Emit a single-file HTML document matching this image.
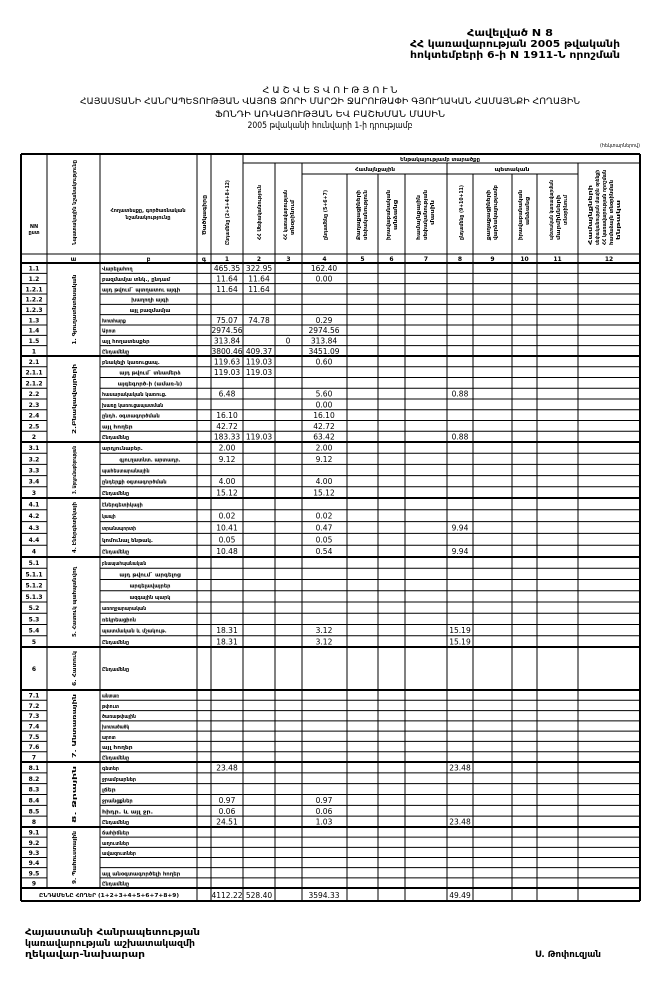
<!DOCTYPE html>
<html><head><meta charset="utf-8">
<style>
html,body{margin:0;padding:0;background:#fff;}
svg{display:block;}
text{font-family:"DejaVu Sans","Liberation Sans",sans-serif;fill:#000;}
.v{font-weight:normal;}
</style></head>
<body>
<svg id="s" width="657" height="999" viewBox="0 0 657 999" xmlns="http://www.w3.org/2000/svg">
<rect width="657" height="999" fill="#fff"/>
<g font-weight="bold" font-size="10">
<text x="467" y="36" textLength="86" lengthAdjust="spacingAndGlyphs">Հավելված N 8</text>
<text x="410" y="47" textLength="210" lengthAdjust="spacingAndGlyphs">ՀՀ կառավարության 2005 թվականի</text>
<text x="410" y="58" textLength="210" lengthAdjust="spacingAndGlyphs">հոկտեմբերի 6-ի N 1911-Ն որոշման</text>
</g>
<g font-size="9" text-anchor="middle">
<text x="330" y="93" textLength="135" lengthAdjust="spacingAndGlyphs">Հ Ա Շ Վ Ե Տ Վ Ո Ւ Թ Յ Ո Ւ Ն</text>
<text x="330" y="104" textLength="500" lengthAdjust="spacingAndGlyphs">ՀԱՅԱՍՏԱՆԻ ՀԱՆՐԱՊԵՏՈՒԹՅԱՆ ՎԱՅՈՑ ՁՈՐԻ ՄԱՐԶԻ ՋԱՐՈՒԹԱՓԻ ԳՅՈՒՂԱԿԱՆ ՀԱՄԱՅՆՔԻ ՀՈՂԱՅԻՆ</text>
<text x="330" y="117" textLength="230" lengthAdjust="spacingAndGlyphs">ՖՈՆԴԻ ԱՌԿԱՅՈՒԹՅԱՆ ԵՎ ԲԱՇԽՄԱՆ ՄԱՍԻՆ</text>
<text x="330" y="128" textLength="165" lengthAdjust="spacingAndGlyphs">2005 թվականի հունվարի 1-ի դրությամբ</text>
</g>
<text x="600" y="147" font-size="5" textLength="40" lengthAdjust="spacingAndGlyphs">(հեկտարներով)</text>
<g id="tbl" font-weight="bold"></g>
<g font-size="9" font-weight="bold">
<text x="25" y="935" textLength="175" lengthAdjust="spacingAndGlyphs">Հայաստանի Հանրապետության</text>
<text x="25" y="946" textLength="170" lengthAdjust="spacingAndGlyphs">կառավարության աշխատակազմի</text>
<text x="25" y="957" textLength="120" lengthAdjust="spacingAndGlyphs">ղեկավար-նախարար</text>
<text x="535" y="957" textLength="66" lengthAdjust="spacingAndGlyphs">Ս. Թոփուզյան</text>
</g>
</svg>
<script>
var NS="http://www.w3.org/2000/svg",G=document.getElementById("tbl");
function L(x1,y1,x2,y2,w){var e=document.createElementNS(NS,"line");e.setAttribute("x1",x1);e.setAttribute("y1",y1);e.setAttribute("x2",x2);e.setAttribute("y2",y2);e.setAttribute("stroke","#000");e.setAttribute("stroke-width",w||1);G.appendChild(e);}
function T(x,y,s,sz,anc,rot,len,cls){var e=document.createElementNS(NS,"text");e.setAttribute("x",x);e.setAttribute("y",y);e.setAttribute("font-size",sz);if(anc)e.setAttribute("text-anchor",anc);if(rot)e.setAttribute("transform","rotate(-90 "+x+" "+y+")");if(len){e.setAttribute("textLength",len);e.setAttribute("lengthAdjust","spacingAndGlyphs");}if(cls)e.setAttribute("class",cls);e.textContent=s;G.appendChild(e);}
var C=[21,47,100,197,211,243,275,302,347,378,405,447,473,512,537,578,640];
var TOP=154,HB=254,NB=263,END=901;
L(21,TOP,640,TOP,2);L(243,163,640,163);L(302,174,578,174);L(21,HB,640,HB);L(21,NB,640,NB,2);
[21,47,100,197,211,243,640].forEach(function(x){L(x,TOP,x,888,(x==21||x==640)?2:1);});
[275,302,447,578].forEach(function(x){L(x,163,x,END);});
[347,378,405,473,512,537].forEach(function(x){L(x,174,x,END);});
[197,211,243].forEach(function(x){L(x,888,x,END);});
L(21,888,21,END,2);L(640,888,640,END,2);L(21,END,640,END,2);
T(34,228,"NN",5,"middle");T(34,234,"ըստ",5,"middle");
T(76,245,"Նպատակային նշանակությունը",5,null,1,85);
T(148,212,"Հողատեսքը, գործառնական",5,"middle",0,75);T(148,219,"նշանակությունը",5,"middle",0,45);
T(206,235,"Ծածկագիրը",5,null,1,40);
T(229,245,"Ընդամենը (2+3+4+8+12)",5,null,1,65);
T(261,240,"ՀՀ Սեփականություն",5,null,1,55);
T(287,240,"ՀՀ կառավարության",5,null,1,50);T(294,235,"տնօրինում",5,null,1,35);
T(440,161,"Ենթակայությամբ տարածքը",5,"middle",0,80);
T(375,171,"Համայնքային",5,"middle",0,40);T(512,171,"պետական",5,"middle",0,35);
T(327,240,"ընդամենը (5+6+7)",5,null,1,50);
T(360,240,"Քաղաքացիների",5,null,1,50);T(367,240,"սեփականություն",5,null,1,50);
T(390,240,"իրավաբանական",5,null,1,50);T(397,230,"անձանց",5,null,1,30);
T(420,240,"համայնքային",5,null,1,45);T(427,240,"սեփականության",5,null,1,50);T(434,225,"մասին",5,null,1,25);
T(463,240,"ընդամենը (9+10+11)",5,null,1,55);
T(490,240,"քաղաքացիների",5,null,1,50);T(497,240,"վարձակալությամբ",5,null,1,55);
T(522,240,"իրավաբանական",5,null,1,50);T(529,225,"անձանց",5,null,1,28);
T(553,240,"պետական կառավարման",5,null,1,60);T(560,240,"մարմինների",5,null,1,45);T(567,225,"տնօրինում",5,null,1,30);
T(592,245,"Համայնքների",5,null,1,60);T(599,245,"սեփականության մասին օրենքի",5,null,1,75);T(606,245,"ՀՀ կառավարության որոշման",5,null,1,75);T(613,245,"համաձայն տնօրինման",5,null,1,65);T(620,240,"ենթակա",5,null,1,40);
var nums=["","ա","բ","գ","1","2","3","4","5","6","7","8","9","10","11","12"];
for(var i=0;i<16;i++)T((C[i]+C[i+1])/2,261,nums[i],6,"middle");
var groups=[
[263,356,"1. Գյուղատնտեսական",[
["1.1","Վարելահող",0,"465.35","322.95","","162.40",""],
["1.2","բազմամյա տնկ., ընդամ",0,"11.64","11.64","","0.00",""],
["1.2.1","այդ թվում` պտղատու այգի",0,"11.64","11.64","","",""],
["1.2.2","խաղողի այգի",1,"","","","",""],
["1.2.3","այլ բազմամյա",1,"","","","",""],
["1.3","Խոտհարք",0,"75.07","74.78","","0.29",""],
["1.4","Արոտ",0,"2974.56","","","2974.56",""],
["1.5","այլ հողատեսքեր",0,"313.84","","0","313.84",""],
["1","Ընդամենը",0,"3800.46","409.37","","3451.09",""]]],
[356,442,"2.Բնակավայրերի",[
["2.1","բնակելի կառուցապ.",0,"119.63","119.03","","0.60",""],
["2.1.1","այդ թվում` տնամերձ",1,"119.03","119.03","","",""],
["2.1.2","այգեգործ-ի (ամառ-ն)",1,"","","","",""],
["2.2","հասարակական կառուց.",0,"6.48","","","5.60","0.88"],
["2.3","խառը կառուցապատման",0,"","","","0.00",""],
["2.4","ընդհ. օգտագործման",0,"16.10","","","16.10",""],
["2.5","այլ հողեր",0,"42.72","","","42.72",""],
["2","Ընդամենը",0,"183.33","119.03","","63.42","0.88"]]],
[442,498,"3. Արդյունաբերության",[
["3.1","արդյունաբեր.",0,"2.00","","","2.00",""],
["3.2","գյուղատնտ. արտադր.",1,"9.12","","","9.12",""],
["3.3","պահեստարանային",0,"","","","",""],
["3.4","ընդերքի օգտագործման",0,"4.00","","","4.00",""],
["3","Ընդամենը",0,"15.12","","","15.12",""]]],
[498,557,"4. Էներգետիկայի",[
["4.1","էներգետիկայի",0,"","","","",""],
["4.2","կապի",0,"0.02","","","0.02",""],
["4.3","տրանսպորտի",0,"10.41","","","0.47","9.94"],
["4.4","կոմունալ ենթակ.",0,"0.05","","","0.05",""],
["4","Ընդամենը",0,"10.48","","","0.54","9.94"]]],
[557,647,"5. Հատուկ պահպանվող",[
["5.1","բնապահպանական",0,"","","","",""],
["5.1.1","այդ թվում` արգելոց",1,"","","","",""],
["5.1.2","արգելավայրեր",1,"","","","",""],
["5.1.3","ազգային պարկ",1,"","","","",""],
["5.2","առողջարարական",0,"","","","",""],
["5.3","ռեկրեացիոն",0,"","","","",""],
["5.4","պատմական և մշակութ.",0,"18.31","","","3.12","15.19"],
["5","Ընդամենը",0,"18.31","","","3.12","15.19"]]],
[647,690,"6. Հատուկ",[["6","Ընդամենը",0,"","","","",""]]],
[690,762,"7. Անտառային",[
["7.1","անտառ",0,"","","","",""],["7.2","թփուտ",0,"","","","",""],["7.3","ծառաթփային",0,"","","","",""],
["7.4","խոտածածկ",0,"","","","",""],["7.5","արոտ",0,"","","","",""],["7.6","այլ հողեր",0,"","","","",""],
["7","Ընդամենը",0,"","","","",""]]],
[762,827,"8. Ջրային",[
["8.1","գետեր",0,"23.48","","","","23.48"],["8.2","ջրամբարներ",0,"","","","",""],["8.3","լճեր",0,"","","","",""],
["8.4","ջրանցքներ",0,"0.97","","","0.97",""],["8.5","հիդր. և այլ ջր.",0,"0.06","","","0.06",""],
["8","Ընդամենը",0,"24.51","","","1.03","23.48"]]],
[827,888,"9. Պահուստային",[
["9.1","ճահիճներ",0,"","","","",""],["9.2","աղուտներ",0,"","","","",""],["9.3","ավազուտներ",0,"","","","",""],
["9.4","",0,"","","","",""],["9.5","այլ անօգտագործելի հողեր",0,"","","","",""],
["9","Ընդամենը",0,"","","","",""]]]];
var VC=[227,259,288,324,460];
groups.forEach(function(g){
  var y0=g[0],y1=g[1],rows=g[3],h=(y1-y0)/rows.length;
  T(76,(y0+y1)/2+Math.min(35,(y1-y0)/2-4),g[2],5,null,1,Math.min(70,y1-y0-8));
  rows.forEach(function(r,i){
    var yt=y0+i*h,yb=yt+h,ym=yt+h/2+2.5;
    if(i<rows.length-1){L(21,yb,47,yb);L(100,yb,640,yb);}
    T(34,ym,r[0],6,"middle");
    if(r[1])T(r[2]?150:102,ym,r[1],5.5,r[2]?"middle":null,0,Math.min(r[1].length*3.4,92));
    for(var k=0;k<5;k++)if(r[3+k])T(VC[k],ym+0.5,r[3+k],7.5,"middle",0,0,"v");
  });
  L(21,y1,640,y1,2);
});
T(109,897,"ԸՆԴԱՄԵՆԸ ՀՈՂԵՐ (1+2+3+4+5+6+7+8+9)",5.5,"middle",0,140);
T(227,898,"4112.22",7.5,"middle",0,0,"v");T(259,898,"528.40",7.5,"middle",0,0,"v");T(324,898,"3594.33",7.5,"middle",0,0,"v");T(460,898,"49.49",7.5,"middle",0,0,"v");
</script>
</body></html>
